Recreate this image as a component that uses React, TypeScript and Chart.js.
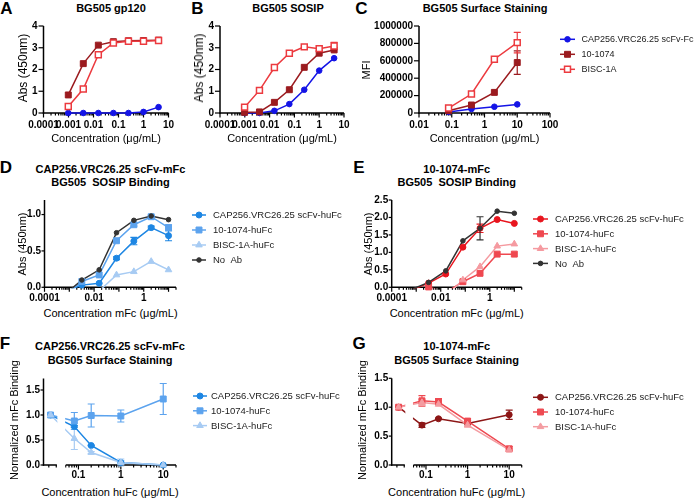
import React, { useEffect, useRef } from 'react';
import { Chart, registerables } from 'chart.js';
Chart.register(...registerables);

const FONT = '"Liberation Sans", Arial, Helvetica, sans-serif';

// ================= DATA =================
// Panels A/B: ELISA, 4-fold dilutions (ug/mL)
const AB_CONC = [0.00098, 0.0039, 0.0156, 0.0625, 0.25, 1, 4];
const A_CAP = [0, 0, 0, 0, 0, 0.05, 0.27];
const A_1074 = [0.83, 2.27, 3.12, 3.28, 3.32, 3.33, 3.35];
const A_BISC = [0.3, 1.1, 2.68, 3.22, 3.3, 3.3, 3.33];

const B_CAP = [0, 0, 0.1, 0.41, 1.07, 1.95, 2.52];
const B_1074 = [0.03, 0.05, 0.49, 1.07, 2.1, 2.75, 2.9];
const B_BISC = [0.27, 1.04, 2.09, 2.75, 3.04, 2.96, 3.08];
const B_BISC_ERR = [0, 0, 0, 0, 0, 0, 0.17];

// Panel C: surface staining MFI
const C_CONC = [0.08, 0.4, 2, 10];
const C_CAP = [12000, 46000, 72000, 99000];
const C_1074 = [27000, 92000, 237000, 580000];
const C_1074_ERR = [0, 0, 0, 135000];
const C_BISC = [57000, 218000, 618000, 809000];
const C_BISC_ERR = [0, 0, 0, 118000];

// Panels D/E: 5-fold dilutions of mFc (ug/mL); values below 0 fall under the axis
const DE_CONC = [0.00064, 0.0032, 0.016, 0.08, 0.4, 2, 10];
const D_CAP = [-0.06, 0.03, 0.055, 0.4, 0.635, 0.82, 0.71];
const D_CAP_ERR = [0, 0, 0, 0.02, 0.05, 0.02, 0.07];
const D_1074 = [-0.12, 0.08, 0.17, 0.64, 0.86, 0.97, 0.82];
const D_1074_ERR = [0, 0, 0, 0, 0.02, 0.02, 0.04];
const D_BISC = [-0.3, -0.12, -0.05, 0.17, 0.215, 0.355, 0.24];
const D_NOAB = [-0.1, 0.1, 0.24, 0.75, 0.92, 0.98, 0.93];

const E_CAP = [-0.08, 0.12, 0.38, 1.15, 1.69, 1.94, 1.83];
const E_CAP_ERR = [0, 0, 0, 0, 0.12, 0, 0];
const E_1074 = [-0.3, 0.01, -0.15, 0.16, 0.4, 0.95, 0.95];
const E_BISC = [-0.4, -0.3, -0.25, 0.21, 0.59, 1.18, 1.24];
const E_NOAB = [-0.06, 0.14, 0.47, 1.33, 1.69, 2.18, 2.12];
const E_NOAB_ERR = [0, 0, 0, 0, 0.33, 0, 0];

// Panels F/G: huFc competition; first entry = no-huFc control drawn left of the axis break
const FG_CONC = [0.022, 0.08, 0.2, 1, 10];
const FG_BREAK = [0.031, 0.05];
const F_CAP = [1.0, 0.77, 0.39, 0.05, 0.0];
const F_CAP_ERR = [0, 0.02, 0.01, 0.03, 0];
const F_1074 = [1.0, 0.88, 0.99, 0.98, 1.32];
const F_1074_ERR = [0, 0.17, 0.23, 0.12, 0.31];
const F_BISC = [1.0, 0.53, 0.25, 0.05, 0.0];
const F_BISC_ERR = [0, 0.22, 0.02, 0.07, 0];

const G_CAP = [1.0, 0.69, 0.8, 0.72, 0.87];
const G_CAP_ERR = [0, 0.04, 0.01, 0.05, 0.08];
const G_1074 = [1.0, 1.11, 1.09, 0.76, 0.28];
const G_1074_ERR = [0, 0.09, 0.06, 0.04, 0.04];
const G_BISC = [1.0, 1.08, 1.05, 0.69, 0.26];
const G_BISC_ERR = [0, 0.05, 0.02, 0.03, 0.02];

// tick labels
const AB_XLABELS = [0.0001, 0.001, 0.01, 0.1, 1, 10];
const C_XLABELS = [0.01, 0.1, 1, 10, 100];
const DE_XLABELS = [0.0001, 0.01, 1];
const FG_XLABELS = [0.1, 1, 10];

const LEG_C = ['CAP256.VRC26.25 scFv-Fc', '10-1074', 'BISC-1A'];
const LEG_HU = ['CAP256.VRC26.25 scFv-huFc', '10-1074-huFc', 'BISC-1A-huFc', 'No  Ab'];

// ================= TYPES =================
type Series = {
  label: string; x: number[]; y: number[]; err?: number[];
  color: string; fill: string; style: 'circle' | 'rect' | 'triangle'; r: number; bw?: number;
};
type Legend = { x: number; y: number; dy: number; len: number; textX: number; size: number };
type PanelCfg = {
  canvas: { x: number; y: number; w: number; h: number };
  area: { l: number; t: number; r: number; b: number };
  xMin: number; xMax: number; xLabels: number[];
  yMax: number; yStep: number; yFmt: (v: number) => string;
  tickFont: number; xPad: number; yPad: number; yTick: number;
  series: Series[]; legend?: Legend; brk?: number[];
};

function drawMarker(ctx: CanvasRenderingContext2D, style: string, x: number, y: number, r: number) {
  ctx.beginPath();
  if (style === 'circle') {
    ctx.arc(x, y, r, 0, Math.PI * 2);
  } else if (style === 'rect') {
    const s = r * Math.SQRT1_2;
    ctx.rect(x - s, y - s, 2 * s, 2 * s);
  } else {
    let rad = 0;
    ctx.moveTo(x + Math.sin(rad) * r, y - Math.cos(rad) * r);
    rad += (2 * Math.PI) / 3;
    ctx.lineTo(x + Math.sin(rad) * r, y - Math.cos(rad) * r);
    rad += (2 * Math.PI) / 3;
    ctx.lineTo(x + Math.sin(rad) * r, y - Math.cos(rad) * r);
    ctx.closePath();
  }
  ctx.fill();
  ctx.stroke();
}

function makePlugin(cfg: PanelCfg) {
  return {
    id: 'prism',
    beforeDatasetsDraw(chart: any) {
      const { ctx, chartArea: a } = chart;
      const xs = chart.scales.x, ys = chart.scales.y;
      ctx.save();
      ctx.strokeStyle = '#000';
      ctx.lineWidth = 1.5;
      ctx.beginPath();
      ctx.moveTo(a.left, a.top);
      ctx.lineTo(a.left, a.bottom + 0.75);
      ctx.stroke();
      const segs: number[][] = cfg.brk
        ? [[a.left - 0.75, xs.getPixelForValue(cfg.brk[0])], [xs.getPixelForValue(cfg.brk[1]), a.right]]
        : [[a.left - 0.75, a.right]];
      segs.forEach(([p, q]) => {
        ctx.beginPath();
        ctx.moveTo(p, a.bottom);
        ctx.lineTo(q, a.bottom);
        ctx.stroke();
      });
      ctx.lineWidth = 1.2;
      ys.ticks.forEach((t: any) => {
        const y = ys.getPixelForValue(t.value);
        ctx.beginPath();
        ctx.moveTo(a.left, y);
        ctx.lineTo(a.left - cfg.yTick, y);
        ctx.stroke();
      });
      const lo = Math.floor(Math.log10(cfg.xMin)), hi = Math.ceil(Math.log10(cfg.xMax));
      for (let e = lo; e <= hi; e++) {
        for (let k = 1; k <= 9; k++) {
          const v = k * Math.pow(10, e);
          if (v < cfg.xMin * 0.9999 || v > cfg.xMax * 1.0001) continue;
          if (cfg.brk && v > cfg.brk[0] && v < cfg.brk[1]) continue;
          const px = xs.getPixelForValue(v);
          const len = k === 1 ? 4.5 : 2.5;
          ctx.beginPath();
          ctx.moveTo(px, a.bottom);
          ctx.lineTo(px, a.bottom + len);
          ctx.stroke();
        }
      }
      // error bars
      cfg.series.forEach((s) => {
        if (!s.err) return;
        ctx.strokeStyle = s.color;
        ctx.lineWidth = 1.2;
        s.x.forEach((xv, i) => {
          const e = s.err![i];
          if (!e) return;
          const px = xs.getPixelForValue(xv);
          const y1 = ys.getPixelForValue(s.y[i] + e);
          const y2 = ys.getPixelForValue(s.y[i] - e);
          ctx.beginPath();
          ctx.moveTo(px, y1); ctx.lineTo(px, y2);
          ctx.moveTo(px - 3.5, y1); ctx.lineTo(px + 3.5, y1);
          ctx.moveTo(px - 3.5, y2); ctx.lineTo(px + 3.5, y2);
          ctx.stroke();
        });
      });
      ctx.restore();
    },
    afterDatasetsDraw(chart: any) {
      const { ctx, chartArea: a } = chart;
      const xs = chart.scales.x;
      ctx.save();
      if (cfg.brk) {
        const p = xs.getPixelForValue(cfg.brk[0]) + 0.5;
        const q = xs.getPixelForValue(cfg.brk[1]) - 0.5;
        ctx.fillStyle = '#fff';
        ctx.fillRect(p, a.top - 2, q - p, a.bottom - a.top + 10);
      }
      const L = cfg.legend;
      if (L) {
        const ox = cfg.canvas.x, oy = cfg.canvas.y;
        cfg.series.forEach((s, i) => {
          const y = L.y + i * L.dy - oy;
          const x0 = L.x - ox;
          ctx.strokeStyle = s.color;
          ctx.lineWidth = 1.5;
          ctx.beginPath();
          ctx.moveTo(x0, y); ctx.lineTo(x0 + L.len, y);
          ctx.stroke();
          ctx.fillStyle = s.fill;
          ctx.lineWidth = s.bw ?? 1;
          drawMarker(ctx, s.style, x0 + L.len / 2, y, s.r);
          ctx.fillStyle = '#222';
          ctx.font = `${L.size}px ${FONT}`;
          ctx.textBaseline = 'middle';
          ctx.textAlign = 'left';
          ctx.fillText(s.label, L.textX - ox, y + 0.5);
        });
      }
      ctx.restore();
    },
  };
}

const PanelChart = ({ cfg }: { cfg: PanelCfg }) => {
  const ref = useRef<HTMLCanvasElement>(null);
  useEffect(() => {
    const c = cfg;
    const datasets: any[] = [];
    [...c.series].reverse().forEach((s) => {
      datasets.push({
        data: s.x.map((x, i) => ({ x, y: s.y[i] })),
        showLine: false,
        pointStyle: s.style,
        pointRadius: s.y.map((v) => (v < 0 ? 0 : s.r)),
        pointBackgroundColor: s.fill,
        pointBorderColor: s.color,
        pointBorderWidth: s.bw ?? 1,
        clip: 10,
      });
    });
    [...c.series].reverse().forEach((s) => {
      datasets.push({
        data: s.x.map((x, i) => ({ x, y: s.y[i] })),
        borderColor: s.color,
        borderWidth: 1.5,
        pointRadius: 0,
        fill: false,
        tension: 0,
        clip: 1,
      });
    });
    const tickFont = { family: FONT, size: c.tickFont, weight: 'bold' as const };
    const yW = c.area.l - c.canvas.x;
    const xH = c.canvas.y + c.canvas.h - c.area.b;
    const chart = new Chart(ref.current!, {
      type: 'line',
      data: { datasets },
      options: {
        responsive: false,
        maintainAspectRatio: false,
        animation: false,
        events: [],
        layout: {
          padding: { left: 0, top: c.area.t - c.canvas.y, right: c.canvas.x + c.canvas.w - c.area.r, bottom: 0 },
        },
        plugins: { legend: { display: false }, tooltip: { enabled: false }, title: { display: false } },
        scales: {
          x: {
            type: 'logarithmic',
            min: c.xMin,
            max: c.xMax,
            grid: { display: false, drawTicks: false },
            border: { display: false },
            ticks: {
              autoSkip: false,
              maxRotation: 0,
              minRotation: 0,
              padding: c.xPad,
              color: '#000',
              font: tickFont,
              callback: (v: any) => {
                const n = Number(v);
                const lab = c.xLabels.find((L) => Math.abs(n / L - 1) < 1e-6);
                return lab !== undefined ? String(lab) : '';
              },
            },
            afterFit: (s: any) => { s.height = xH; s.paddingLeft = 0; s.paddingRight = 0; },
          },
          y: {
            type: 'linear',
            min: 0,
            max: c.yMax,
            grid: { display: false, drawTicks: false },
            border: { display: false },
            ticks: {
              stepSize: c.yStep,
              includeBounds: false,
              padding: c.yPad,
              color: '#000',
              font: tickFont,
              callback: (v: any) => c.yFmt(Number(v)),
            },
            afterFit: (s: any) => { s.width = yW; s.paddingTop = 0; s.paddingBottom = 0; },
          },
        },
      } as any,
      plugins: [makePlugin(c) as any],
    });
    return () => chart.destroy();
  }, [cfg]);
  return (
    <canvas
      ref={ref}
      width={cfg.canvas.w}
      height={cfg.canvas.h}
      style={{ position: 'absolute', left: cfg.canvas.x, top: cfg.canvas.y, width: cfg.canvas.w, height: cfg.canvas.h }}
    />
  );
};

// ================= PANEL CONFIGS =================
const RED_DARK = '#9B1B1F';
const RED_OPEN = '#EC3A3F';
const BLUE_ABC = '#1414E6';

const abcSeries = (cap: number[], s1074: number[], bisc: number[], x: number[], e1074?: number[], ebisc?: number[]): Series[] => [
  { label: LEG_C[0], x, y: cap, color: BLUE_ABC, fill: BLUE_ABC, style: 'circle', r: 2.8 },
  { label: LEG_C[1], x, y: s1074, err: e1074, color: RED_DARK, fill: RED_DARK, style: 'rect', r: 4.2 },
  { label: LEG_C[2], x, y: bisc, err: ebisc, color: RED_OPEN, fill: '#ffffff', style: 'rect', r: 4.2, bw: 1.5 },
];

const fmtInt = (v: number) => String(Math.round(v));
const fmt1 = (v: number) => v.toFixed(1);

const PANEL_A: PanelCfg = {
  canvas: { x: 0, y: 18, w: 180, h: 116 },
  area: { l: 43.5, t: 26, r: 168.5, b: 113 },
  xMin: 0.0001, xMax: 10, xLabels: AB_XLABELS,
  yMax: 4, yStep: 1, yFmt: fmtInt, tickFont: 10, xPad: 6, yPad: 6, yTick: 5,
  series: abcSeries(A_CAP, A_1074, A_BISC, AB_CONC),
};
const PANEL_B: PanelCfg = {
  canvas: { x: 180, y: 18, w: 176, h: 116 },
  area: { l: 220, t: 26, r: 344, b: 113 },
  xMin: 0.0001, xMax: 10, xLabels: AB_XLABELS,
  yMax: 4, yStep: 1, yFmt: fmtInt, tickFont: 10, xPad: 6, yPad: 6, yTick: 5,
  series: abcSeries(B_CAP, B_1074, B_BISC, AB_CONC, undefined, B_BISC_ERR),
};
const PANEL_C: PanelCfg = {
  canvas: { x: 370, y: 18, w: 326, h: 116 },
  area: { l: 419, t: 26, r: 550, b: 113 },
  xMin: 0.01, xMax: 100, xLabels: C_XLABELS,
  yMax: 1000000, yStep: 200000, yFmt: fmtInt, tickFont: 10, xPad: 6, yPad: 6, yTick: 5,
  series: abcSeries(C_CAP, C_1074, C_BISC, C_CONC, C_1074_ERR, C_BISC_ERR),
  legend: { x: 560, y: 39.3, dy: 15, len: 15, textX: 581.5, size: 9 },
};

const D_COL = { cap: '#1D86E3', s1074: '#5CA3EE', bisc: '#A7CBF3' };
const E_COL = { cap: '#E8151E', s1074: '#EF4850', bisc: '#F59AA0' };
const G_COL = { cap: '#8C1616', s1074: '#EE4A52', bisc: '#F49CA1' };
const NOAB = '#333333';

const huSeries = (
  col: { cap: string; s1074: string; bisc: string }, x: number[],
  cap: number[], capE: number[] | undefined, s1074: number[], e1074: number[] | undefined,
  bisc: number[], ebisc: number[] | undefined, noab?: number[], enoab?: number[],
): Series[] => {
  const out: Series[] = [
    { label: LEG_HU[0], x, y: cap, err: capE, color: col.cap, fill: col.cap, style: 'circle', r: 3 },
    { label: LEG_HU[1], x, y: s1074, err: e1074, color: col.s1074, fill: col.s1074, style: 'rect', r: 4.2 },
    { label: LEG_HU[2], x, y: bisc, err: ebisc, color: col.bisc, fill: col.bisc, style: 'triangle', r: 3.8 },
  ];
  if (noab) out.push({ label: LEG_HU[3], x, y: noab, err: enoab, color: NOAB, fill: NOAB, style: 'circle', r: 2.3 });
  return out;
};

const PANEL_D: PanelCfg = {
  canvas: { x: 0, y: 192, w: 352, h: 112 },
  area: { l: 44.5, t: 200, r: 176, b: 287.3 },
  xMin: 0.0001, xMax: 20, xLabels: DE_XLABELS,
  yMax: 1.2, yStep: 0.5, yFmt: fmt1, tickFont: 10, xPad: 4.5, yPad: 3.5, yTick: 3,
  series: huSeries(D_COL, DE_CONC, D_CAP, D_CAP_ERR, D_1074, D_1074_ERR, D_BISC, undefined, D_NOAB),
  legend: { x: 192, y: 215, dy: 15, len: 14, textX: 213, size: 9.5 },
};
const PANEL_E: PanelCfg = {
  canvas: { x: 356, y: 192, w: 340, h: 112 },
  area: { l: 391.7, t: 200, r: 521.7, b: 287.3 },
  xMin: 0.0001, xMax: 20, xLabels: DE_XLABELS,
  yMax: 2.5, yStep: 0.5, yFmt: fmt1, tickFont: 10, xPad: 4.5, yPad: 3.5, yTick: 3,
  series: huSeries(E_COL, DE_CONC, E_CAP, E_CAP_ERR, E_1074, undefined, E_BISC, undefined, E_NOAB, E_NOAB_ERR),
  legend: { x: 533, y: 219, dy: 14.8, len: 15, textX: 555, size: 9.5 },
};
const PANEL_F: PanelCfg = {
  canvas: { x: 0, y: 370, w: 352, h: 112 },
  area: { l: 43.5, t: 378.5, r: 176, b: 465 },
  xMin: 0.015, xMax: 20, xLabels: FG_XLABELS,
  yMax: 1.73, yStep: 0.5, yFmt: fmt1, tickFont: 10, xPad: 4.5, yPad: 3.5, yTick: 3,
  series: huSeries(D_COL, FG_CONC, F_CAP, F_CAP_ERR, F_1074, F_1074_ERR, F_BISC, F_BISC_ERR),
  legend: { x: 193, y: 396, dy: 14.8, len: 14, textX: 211, size: 9.5 },
  brk: FG_BREAK,
};
const PANEL_G: PanelCfg = {
  canvas: { x: 356, y: 370, w: 340, h: 112 },
  area: { l: 391.7, t: 378.3, r: 521.7, b: 465 },
  xMin: 0.015, xMax: 20, xLabels: FG_XLABELS,
  yMax: 1.5, yStep: 0.5, yFmt: fmt1, tickFont: 10, xPad: 4.5, yPad: 3.5, yTick: 3,
  series: huSeries(G_COL, FG_CONC, G_CAP, G_CAP_ERR, G_1074, G_1074_ERR, G_BISC, G_BISC_ERR),
  legend: { x: 533, y: 397.3, dy: 14.7, len: 15, textX: 555, size: 9.5 },
  brk: FG_BREAK,
};

// ================= TEXT =================
type T = { t: string; x: number; y: number; s: number; b?: boolean; rot?: boolean };
const TEXTS: T[] = [
  { t: 'A', x: 6.5, y: 8, s: 17, b: true },
  { t: 'B', x: 197.5, y: 8, s: 17, b: true },
  { t: 'C', x: 361.5, y: 8, s: 17, b: true },
  { t: 'D', x: 6, y: 166.5, s: 17, b: true },
  { t: 'E', x: 359, y: 166.5, s: 17, b: true },
  { t: 'F', x: 5, y: 342.5, s: 17, b: true },
  { t: 'G', x: 359, y: 342.5, s: 17, b: true },
  { t: 'BG505 gp120', x: 111, y: 8, s: 11, b: true },
  { t: 'BG505 SOSIP', x: 288, y: 8, s: 11, b: true },
  { t: 'BG505 Surface Staining', x: 485, y: 8, s: 11, b: true },
  { t: 'CAP256.VRC26.25 scFv-mFc', x: 110.5, y: 168.5, s: 11, b: true },
  { t: 'BG505  SOSIP Binding', x: 110.5, y: 182, s: 11, b: true },
  { t: '10-1074-mFc', x: 456.7, y: 168.5, s: 11, b: true },
  { t: 'BG505  SOSIP Binding', x: 456.7, y: 182, s: 11, b: true },
  { t: 'CAP256.VRC26.25 scFv-mFc', x: 110, y: 346, s: 11, b: true },
  { t: 'BG505 Surface Staining', x: 110, y: 359.5, s: 11, b: true },
  { t: '10-1074-mFc', x: 456.7, y: 346, s: 11, b: true },
  { t: 'BG505 Surface Staining', x: 456.7, y: 359.5, s: 11, b: true },
  { t: 'Concentration (μg/mL)', x: 106, y: 138, s: 11 },
  { t: 'Concentration (μg/mL)', x: 282, y: 138, s: 11 },
  { t: 'Concentration (μg/mL)', x: 484.5, y: 138, s: 11 },
  { t: 'Concentration mFc (μg/mL)', x: 110.5, y: 313, s: 11 },
  { t: 'Concentration mFc (μg/mL)', x: 456.7, y: 313, s: 11 },
  { t: 'Concentration huFc (μg/mL)', x: 110, y: 492, s: 11 },
  { t: 'Concentration huFc (μg/mL)', x: 456.7, y: 492, s: 11 },
  { t: 'Abs (450nm)', x: 22.5, y: 68, s: 12, rot: true },
  { t: 'Abs (450nm)', x: 199, y: 68, s: 12, rot: true },
  { t: 'MFI', x: 366, y: 70, s: 11, rot: true },
  { t: 'Abs (450nm)', x: 21.7, y: 244, s: 11, rot: true },
  { t: 'Abs (450nm)', x: 368, y: 244, s: 11, rot: true },
  { t: 'Normalized mFc Binding', x: 14, y: 420, s: 11, rot: true },
  { t: 'Normalized mFc Binding', x: 361.7, y: 420, s: 11, rot: true },
];

const PANELS = [PANEL_A, PANEL_B, PANEL_C, PANEL_D, PANEL_E, PANEL_F, PANEL_G];

export default function App() {
  return (
    <div style={{ position: 'absolute', left: 0, top: 0, width: 696, height: 498, background: '#fff', overflow: 'hidden' }}>
      {PANELS.map((p, i) => (
        <PanelChart key={i} cfg={p} />
      ))}
      {TEXTS.map((t, i) => (
        <div
          key={'t' + i}
          style={{
            position: 'absolute', left: t.x, top: t.y,
            transform: `translate(-50%, -50%)${t.rot ? ' rotate(-90deg)' : ''}`,
            fontFamily: FONT, fontSize: t.s, fontWeight: t.b ? 'bold' : 'normal',
            lineHeight: 1, whiteSpace: 'pre', color: '#000',
          }}
        >
          {t.t}
        </div>
      ))}
    </div>
  );
}
